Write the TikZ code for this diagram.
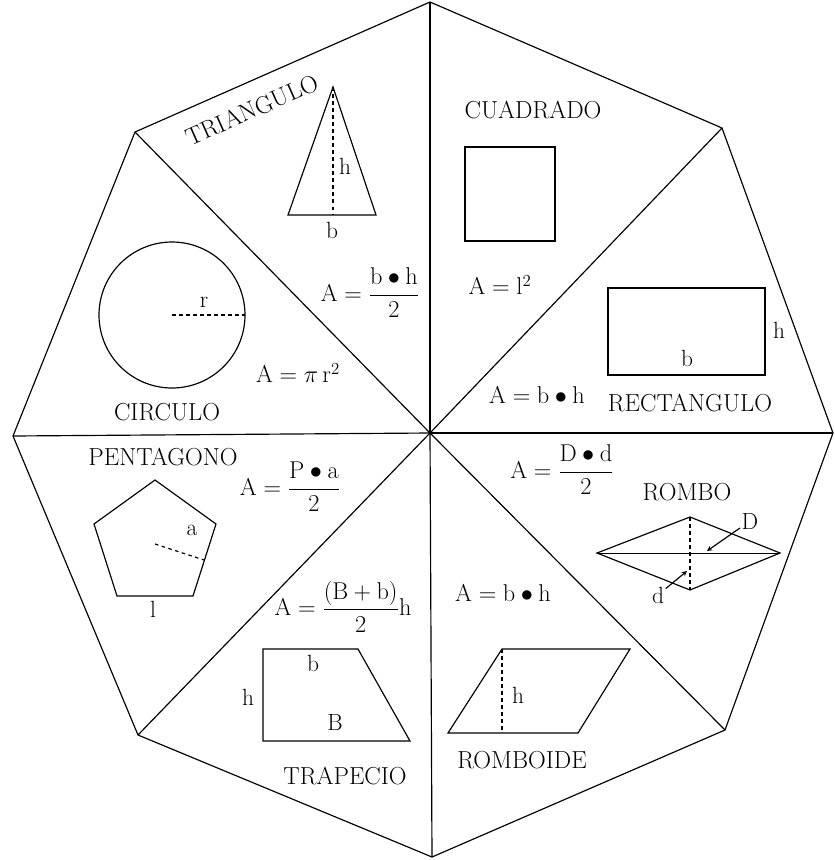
\documentclass[tikz,border=0pt]{standalone}
\usepackage{amsmath}
\tikzset{
  titulo/.style={font=\fontsize{21}{23}\selectfont},
  formula/.style={font=\fontsize{20}{22}\selectfont,inner sep=0pt},
  letra/.style={font=\fontsize{20}{22}\selectfont,inner sep=1pt},
}
\begin{document}
\begin{tikzpicture}[line width=1pt,>=stealth,x=0.03cm,y=-0.03cm]
	\useasboundingbox (0,0) rectangle (835,860);
	% octogono
	\coordinate (O) at (430,433);
	\coordinate (v1) at (430,2);
	\coordinate (v2) at (722,128);
	\coordinate (v3) at (833,433);
	\coordinate (v4) at (725,730);
	\coordinate (v5) at (432,857);
	\coordinate (v6) at (138,735);
	\coordinate (v7) at (13,436);
	\coordinate (v8) at (135,132);
	\draw (v1)--(v2)--(v3)--(v4)--(v5)--(v6)--(v7)--(v8)--cycle;
	\foreach \v in {1,...,8} \draw (O) -- (v\v);
	% triangulo
	\node[titulo,rotate=24] (ttri) at (252,110) {TRIANGULO};
	\draw (333,87) -- (376,215) -- (288,215) -- cycle;
	\draw[dashed] (333,87) -- (333,215);
	\node[letra] (htri) at (345,166) {h};
	\node[letra] (btri) at (332,230) {b};
	\node[formula] (ftri) at (370,293) {$\mathrm{A=\dfrac{b\bullet h}{2}}$};
	% circulo
	\draw (172,315) circle (73);
	\draw[dashed] (172,315) -- (245,315);
	\node[letra] (rcir) at (204,302) {r};
	\node[formula] (fcir) at (298,373) {$\mathrm{A}=\pi\,\mathrm{r}^2$};
	\node[titulo] (tcir) at (167,412) {CIRCULO};
	% cuadrado
	\node[titulo] (tcua) at (533,110) {CUADRADO};
	\draw (465,147) rectangle (555,241);
	\node[formula] (fcua) at (500,285) {$\mathrm{A=l^2}$};
	% rectangulo
	\draw (608,288) rectangle (765,375);
	\node[letra] (hrec) at (779,330) {h};
	\node[letra] (brec) at (687,358) {b};
	\node[formula] (frec) at (537,395) {$\mathrm{A=b\bullet h}$};
	\node[titulo] (trec) at (690,403) {RECTANGULO};
	% pentagono
	\node[titulo] (tpen) at (163,457) {PENTAGONO};
	\node[formula] (fpen) at (290,487) {$\mathrm{A=\dfrac{P\bullet a}{2}}$};
	\draw (155,480) -- (216,524) -- (193,596) -- (117,596) -- (94,524) -- cycle;
	\draw[dashed] (155,544) -- (204,560);
	\node[letra] (apen) at (192,530) {a};
	\node[letra] (lpen) at (153,609) {l};
	% trapecio
	\node[formula] (ftra) at (343,607) {$\mathrm{A=\dfrac{(B+b)}{2}h}$};
	\draw (263,649) -- (358,649) -- (410,741) -- (263,741) -- cycle;
	\node[letra] (btra) at (313,663) {b};
	\node[letra] (htra) at (248,697) {h};
	\node[letra] (Btra) at (335,722) {B};
	\node[titulo] (ttra) at (345,776) {TRAPECIO};
	% rombo
	\node[formula] (from) at (562,470) {$\mathrm{A=\dfrac{D\bullet d}{2}}$};
	\node[titulo] (trom) at (687,492) {ROMBO};
	\draw (597,553) -- (690,517) -- (780,553) -- (690,590) -- cycle;
	\draw[thin] (597,553) -- (780,553);
	\draw[dashed] (690,517) -- (690,590);
	\node[letra] (Drom) at (750,521) {D};
	\coordinate (Dpunta) at (707,551);
	\draw[->] (Drom) -- (Dpunta);
	\node[letra] (drom) at (658,595) {d};
	\coordinate (dpunta) at (687,571);
	\draw[->] (drom) -- (dpunta);
	% romboide
	\node[formula] (froi) at (503,593) {$\mathrm{A=b\bullet h}$};
	\draw (502,649) -- (630,649) -- (578,733) -- (448,733) -- cycle;
	\draw[dashed] (502,649) -- (502,733);
	\node[letra] (hroi) at (518,695) {h};
	\node[titulo] (troi) at (522,760) {ROMBOIDE};
\end{tikzpicture}
\end{document}
